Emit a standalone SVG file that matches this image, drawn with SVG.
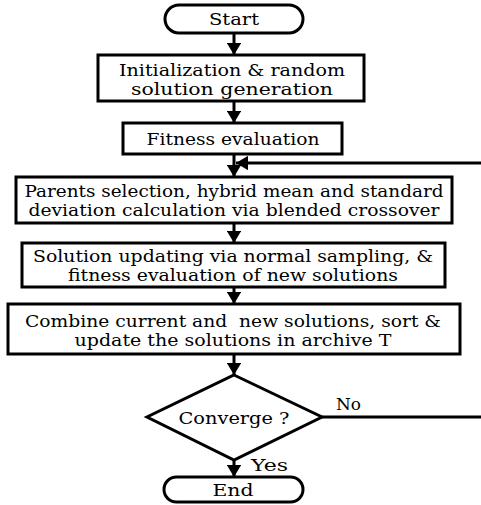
<svg xmlns="http://www.w3.org/2000/svg" width="481" height="505" viewBox="0 0 481 505">
<defs>
<style>
.n{fill:#fff;stroke:#000;stroke-width:3}
.c{fill:none;stroke:#000;stroke-width:3}
text{font-family:"DejaVu Serif","Liberation Serif",serif;font-size:17px;fill:#000}
.m{text-anchor:middle}
</style>
<marker id="ah" viewBox="0 0 10 10" refX="10" refY="5" markerWidth="4" markerHeight="4.8" markerUnits="strokeWidth" orient="auto" preserveAspectRatio="none">
<path d="M0,0 L10,5 L0,10 Z" fill="#000"/>
</marker>
</defs>
<rect width="481" height="505" fill="#fff"/>
<g id="connectors">
<line class="c" x1="234" y1="33" x2="234" y2="55" marker-end="url(#ah)"/>
<line class="c" x1="234" y1="101" x2="234" y2="123" marker-end="url(#ah)"/>
<line class="c" x1="234" y1="154" x2="234" y2="177" marker-end="url(#ah)"/>
<polyline class="c" points="322,417 481,417"/>
<line class="c" x1="481" y1="163" x2="236" y2="163" marker-end="url(#ah)"/>
<line class="c" x1="234" y1="223" x2="234" y2="243" marker-end="url(#ah)"/>
<line class="c" x1="234" y1="287" x2="234" y2="304" marker-end="url(#ah)"/>
<line class="c" x1="234" y1="354" x2="234" y2="375" marker-end="url(#ah)"/>
<line class="c" x1="234" y1="460" x2="234" y2="477" marker-end="url(#ah)"/>
<text x="336" y="410" textLength="25" lengthAdjust="spacingAndGlyphs">No</text>
<text x="251" y="471" textLength="37" lengthAdjust="spacingAndGlyphs">Yes</text>
</g>
<g id="start">
<rect class="n" x="165" y="5" width="138" height="28" rx="14"/>
<text class="m" x="234" y="25" textLength="50" lengthAdjust="spacingAndGlyphs">Start</text>
</g>
<g id="init">
<rect class="n" x="98" y="55" width="266" height="46"/>
<text class="m" x="232" y="76" textLength="226" lengthAdjust="spacingAndGlyphs">Initialization &amp; random</text>
<text class="m" x="232" y="95" textLength="202" lengthAdjust="spacingAndGlyphs">solution generation</text>
</g>
<g id="fitness">
<rect class="n" x="123" y="123" width="219" height="31"/>
<text class="m" x="233" y="145" textLength="173" lengthAdjust="spacingAndGlyphs">Fitness evaluation</text>
</g>
<g id="parents">
<rect class="n" x="16" y="177" width="436" height="46"/>
<text class="m" x="234" y="197" textLength="419" lengthAdjust="spacingAndGlyphs">Parents selection, hybrid mean and standard</text>
<text class="m" x="234" y="216" textLength="411" lengthAdjust="spacingAndGlyphs">deviation calculation via blended crossover</text>
</g>
<g id="update">
<rect class="n" x="22" y="243" width="423" height="44"/>
<text class="m" x="233" y="262" textLength="400" lengthAdjust="spacingAndGlyphs">Solution updating via normal sampling, &amp;</text>
<text class="m" x="233" y="281" textLength="330" lengthAdjust="spacingAndGlyphs">fitness evaluation of new solutions</text>
</g>
<g id="combine">
<rect class="n" x="8" y="304" width="452" height="50"/>
<text class="m" x="233" y="327" textLength="416" lengthAdjust="spacingAndGlyphs" xml:space="preserve">Combine current and  new solutions, sort &amp;</text>
<text class="m" x="233" y="346" textLength="317" lengthAdjust="spacingAndGlyphs">update the solutions in archive T</text>
</g>
<g id="converge">
<polygon class="n" points="234,375 322,417 234,460 147,417"/>
<text class="m" x="234" y="424" textLength="111" lengthAdjust="spacingAndGlyphs">Converge ?</text>
</g>
<g id="end">
<rect class="n" x="164" y="477" width="139" height="25" rx="12.5"/>
<text class="m" x="233" y="496" textLength="41" lengthAdjust="spacingAndGlyphs">End</text>
</g>
</svg>
